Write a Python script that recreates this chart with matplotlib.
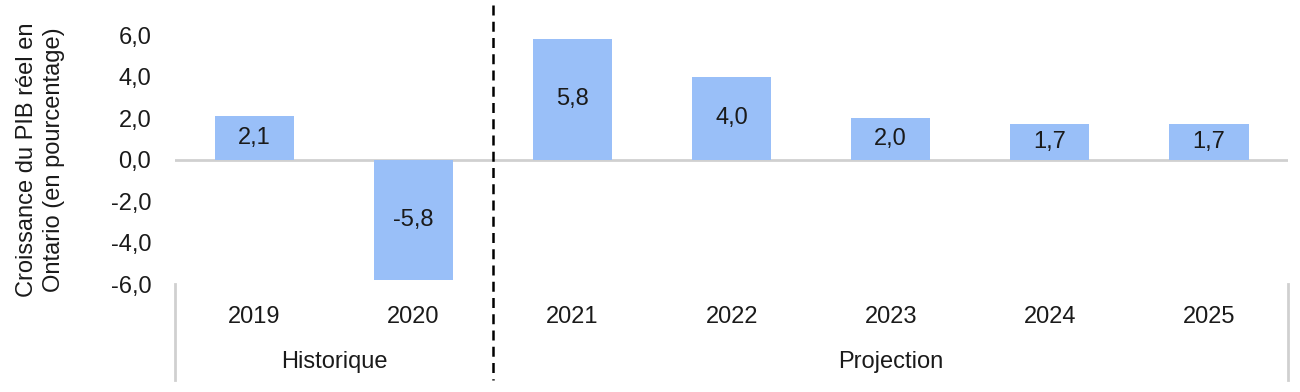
import numpy as np
import matplotlib.pyplot as plt

plt.rcParams['font.family'] = ['Liberation Sans', 'DejaVu Sans']

# donnees
annees = ['2019', '2020', '2021', '2022', '2023', '2024', '2025']
croissance = [2.1, -5.8, 5.8, 4.0, 2.0, 1.7, 1.7]
groupes = ['Historique', 'Projection']
taille_groupes = [2, 5]

fig = plt.figure(figsize=(13, 3.92), dpi=100)
ax = fig.add_axes([0.1346, 0.2755, 0.8564, 0.6352])

x = np.arange(len(annees))
ax.bar(x, croissance, width=0.5, color='#99BFF8', zorder=2)

# etiquettes des valeurs au centre des barres
for xi, v in zip(x, croissance):
    ax.text(xi, v / 2, f'{v:.1f}'.replace('.', ','), ha='center', va='center',
            fontsize=17, color='#1a1a1a', zorder=3)

ax.axhline(0, color='#d0d0d0', lw=2, zorder=1)

ax.set_xlim(-0.5, len(annees) - 0.5)
ax.set_ylim(-6, 6)
ax.set_yticks(np.arange(-6, 7, 2))
ax.set_yticklabels([f'{t:.1f}'.replace('.', ',') for t in np.arange(-6, 7, 2)])
ax.set_xticks(x)
ax.set_xticklabels(annees)
ax.tick_params(axis='both', length=0, labelsize=17, colors='#1a1a1a')
ax.tick_params(axis='x', pad=16)
ax.tick_params(axis='y', pad=17)
for s in ax.spines.values():
    s.set_visible(False)

ax.set_ylabel('Croissance du PIB réel en\nOntario (en pourcentage)', fontsize=17,
              color='#1a1a1a', labelpad=33, linespacing=1.3)

# separateurs des groupes
trans = ax.get_xaxis_transform()
bornes = np.cumsum([0] + taille_groupes) - 0.5
ax.plot([bornes[0], bornes[0]], [0, -0.386], color='#d0d0d0', lw=2,
        transform=trans, clip_on=False)
ax.plot([bornes[-1], bornes[-1]], [0, -0.386], color='#d0d0d0', lw=2,
        transform=trans, clip_on=False)
ax.plot([bornes[1], bornes[1]], [1.12, -0.386], color='black', lw=1.8,
        ls=(0, (4, 2.5)), transform=trans, clip_on=False)

# etiquettes des groupes
for i, g in enumerate(groupes):
    centre = (bornes[i] + bornes[i + 1]) / 2
    ax.text(centre, -0.313, g, ha='center', va='center', fontsize=17,
            color='#1a1a1a', transform=trans)

fig.savefig('out.png', dpi=100)
